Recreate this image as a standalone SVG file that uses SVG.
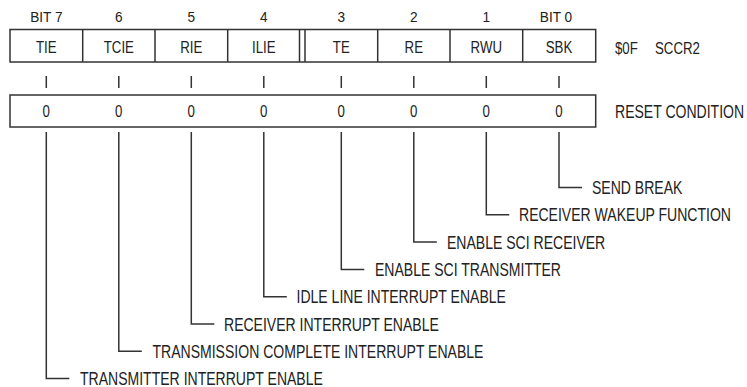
<svg xmlns="http://www.w3.org/2000/svg" width="747" height="387" viewBox="0 0 747 387">
<style>
text{font-family:"Liberation Sans",Arial,sans-serif;fill:#222}
.hd{font-size:15.5px;text-anchor:middle}
.cell{font-size:17px;text-anchor:middle}
.side{font-size:17px}
.lbl{font-size:18px}
.box{fill:#fff;stroke:#333;stroke-width:1.5}
.ln{fill:none;stroke:#333;stroke-width:1.5}
</style>
<rect width="747" height="387" fill="#fff"/>
<g id="header">
<text class="hd" transform="translate(46.3 22) scale(0.88 1)">BIT 7</text>
<text class="hd" transform="translate(118.8 22) scale(0.88 1)">6</text>
<text class="hd" transform="translate(191.3 22) scale(0.88 1)">5</text>
<text class="hd" transform="translate(263.8 22) scale(0.88 1)">4</text>
<text class="hd" transform="translate(341.3 22) scale(0.88 1)">3</text>
<text class="hd" transform="translate(413.8 22) scale(0.88 1)">2</text>
<text class="hd" transform="translate(486.3 22) scale(0.88 1)">1</text>
<text class="hd" transform="translate(556 22) scale(0.88 1)">BIT 0</text>
</g>
<g id="register">
<rect class="box" x="10" y="29.5" width="585.7" height="32.5"/>
<path class="ln" d="M82.7 29.5V62M155 29.5V62M227.7 29.5V62M299.5 29.5V62M305 29.5V62M377.7 29.5V62M450 29.5V62M522.7 29.5V62"/>
<text class="cell" transform="translate(46.3 53) scale(0.78 1)">TIE</text>
<text class="cell" transform="translate(118.8 53) scale(0.78 1)">TCIE</text>
<text class="cell" transform="translate(191.3 53) scale(0.78 1)">RIE</text>
<text class="cell" transform="translate(263.8 53) scale(0.78 1)">ILIE</text>
<text class="cell" transform="translate(341.3 53) scale(0.78 1)">TE</text>
<text class="cell" transform="translate(413.8 53) scale(0.78 1)">RE</text>
<text class="cell" transform="translate(486.3 53) scale(0.78 1)">RWU</text>
<text class="cell" transform="translate(559 53) scale(0.78 1)">SBK</text>
<text class="side" transform="translate(615 54) scale(0.78 1)">$0F</text>
<text class="side" transform="translate(655 54) scale(0.78 1)">SCCR2</text>
</g>
<g id="ticks">
<path class="ln" d="M46.3 76V88M118.8 76V88M191.3 76V88M263.8 76V88M341.3 76V88M413.8 76V88M486.3 76V88M559 76V88"/>
</g>
<g id="reset">
<rect class="box" x="10" y="95" width="585.7" height="32"/>
<text class="cell" transform="translate(46.3 117) scale(0.78 1)">0</text>
<text class="cell" transform="translate(118.8 117) scale(0.78 1)">0</text>
<text class="cell" transform="translate(191.3 117) scale(0.78 1)">0</text>
<text class="cell" transform="translate(263.8 117) scale(0.78 1)">0</text>
<text class="cell" transform="translate(341.3 117) scale(0.78 1)">0</text>
<text class="cell" transform="translate(413.8 117) scale(0.78 1)">0</text>
<text class="cell" transform="translate(486.3 117) scale(0.78 1)">0</text>
<text class="cell" transform="translate(559 117) scale(0.78 1)">0</text>
<text class="lbl" transform="translate(615 117.5) scale(0.78 1)">RESET CONDITION</text>
</g>
<g id="connectors">
<path class="ln" d="M559 132V187.5H582"/>
<path class="ln" d="M486.3 132V214.8H509.3"/>
<path class="ln" d="M413.8 132V242.1H436.8"/>
<path class="ln" d="M341.3 132V269.4H364.3"/>
<path class="ln" d="M263.8 132V296.7H286.8"/>
<path class="ln" d="M191.3 132V324H214.3"/>
<path class="ln" d="M118.8 132V351.3H141.8"/>
<path class="ln" d="M46.3 132V378.6H69.3"/>
</g>
<g id="labels">
<text class="lbl" transform="translate(592 194) scale(0.78 1)">SEND BREAK</text>
<text class="lbl" transform="translate(519 221.3) scale(0.78 1)">RECEIVER WAKEUP FUNCTION</text>
<text class="lbl" transform="translate(447 248.6) scale(0.78 1)">ENABLE SCI RECEIVER</text>
<text class="lbl" transform="translate(375 275.9) scale(0.78 1)">ENABLE SCI TRANSMITTER</text>
<text class="lbl" transform="translate(296.5 303.2) scale(0.78 1)">IDLE LINE INTERRUPT ENABLE</text>
<text class="lbl" transform="translate(224 330.5) scale(0.78 1)">RECEIVER INTERRUPT ENABLE</text>
<text class="lbl" transform="translate(152.5 357.8) scale(0.78 1)">TRANSMISSION COMPLETE INTERRUPT ENABLE</text>
<text class="lbl" transform="translate(80 385.1) scale(0.78 1)">TRANSMITTER INTERRUPT ENABLE</text>
</g>
</svg>
